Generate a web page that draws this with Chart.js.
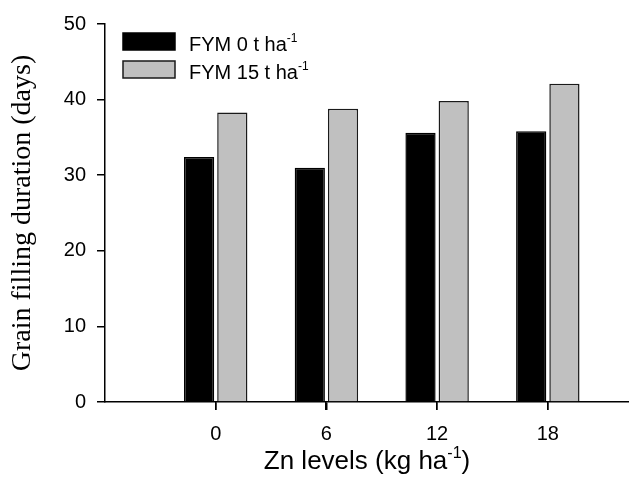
<!DOCTYPE html>
<html>
<head>
<meta charset="utf-8">
<script src="https://cdn.jsdelivr.net/npm/chart.js@4.4.1/dist/chart.umd.min.js"></script>
<style>
  html, body { margin:0; padding:0; background:#fff; }
  canvas { display:block; }
</style>
</head>
<body>
<canvas id="grainChart" width="629" height="484"></canvas>
<script>
/* ── Data ── */
const znLevels     = [0, 6, 12, 18];
const fym0         = [32.4, 31.0, 35.6, 35.8];
const fym15        = [38.3, 38.8, 39.8, 42.1];
const seriesLabels = ['FYM 0 t ha{-1}', 'FYM 15 t ha{-1}'];
const yTicks       = [0, 10, 20, 30, 40, 50];
const xTitle       = 'Zn levels (kg ha{-1})';
const yTitle       = 'Grain filling duration (days)';

/* ── Styling ── */
const SANS  = "'Liberation Sans', Arial, sans-serif";
const SERIF = "'Liberation Serif', 'Times New Roman', serif";
const INK   = '#000';
const TICK  = 8;

/* Text with {superscript} parts, e.g. 'ha{-1}' */
function drawRich(ctx, text, x, y, size, align) {
  const parts  = text.split(/(\{[^}]*\})/).filter(Boolean);
  const base   = `${size}px ${SANS}`;
  const sup    = `${Math.round(size * 0.62)}px ${SANS}`;
  const pieces = parts.map(p => {
    const isSup = p.startsWith('{');
    const str   = isSup ? p.slice(1, -1) : p;
    ctx.font = isSup ? sup : base;
    return { str, isSup, w: ctx.measureText(str).width };
  });
  const total = pieces.reduce((s, p) => s + p.w, 0);
  let cx = align === 'center' ? x - total / 2 : x;
  ctx.textAlign    = 'left';
  ctx.textBaseline = 'alphabetic';
  pieces.forEach(p => {
    ctx.font = p.isSup ? sup : base;
    ctx.fillText(p.str, cx, p.isSup ? y - size * 0.42 : y);
    cx += p.w;
  });
}

/* ── Legend inside the plot, x tick marks, x title with superscript ── */
const plotText = {
  id: 'plotText',
  afterDraw(chart) {
    const { ctx, chartArea } = chart;
    const xs = chart.scales.x;
    ctx.save();

    // tick marks under the x axis
    ctx.strokeStyle = INK;
    ctx.lineWidth   = 1.5;
    xs.ticks.forEach(t => {
      const px = Math.round(xs.getPixelForValue(t.value)) - 0.25;
      ctx.beginPath();
      ctx.moveTo(px, chartArea.bottom);
      ctx.lineTo(px, chartArea.bottom + TICK);
      ctx.stroke();
    });

    chart.data.datasets.forEach((ds, i) => {
      const bx = chartArea.left + 18;
      const by = chartArea.top + 9 + i * 28;
      ctx.fillStyle = ds.backgroundColor;
      ctx.fillRect(bx, by, 52, 17);
      ctx.lineWidth   = 1.5;
      ctx.strokeStyle = ds.borderColor;
      ctx.strokeRect(bx, by, 52, 17);
      ctx.fillStyle = INK;
      drawRich(ctx, ds.label, bx + 66, by + 17.5, 20, 'left');
    });
    ctx.fillStyle = INK;
    drawRich(ctx, xTitle, (chartArea.left + chartArea.right) / 2, chart.height - 15, 26, 'center');
    ctx.restore();
  },
};

const axisGrid = {
  drawOnChartArea: false, drawTicks: true, offset: false,
  tickLength: TICK, tickColor: INK, tickWidth: 1.5, color: INK, lineWidth: 1.5,
};

new Chart(document.getElementById('grainChart'), {
  type: 'bar',
  data: {
    datasets: [
      {
        label: seriesLabels[0],
        data: znLevels.map((z, i) => ({ x: z, y: fym0[i] })),
        backgroundColor: '#000', borderColor: '#000', borderWidth: 1.5,
      },
      {
        label: seriesLabels[1],
        data: znLevels.map((z, i) => ({ x: z, y: fym15[i] })),
        backgroundColor: '#c0c0c0', borderColor: '#1a1a1a', borderWidth: 1.5,
      },
    ],
  },
  options: {
    responsive: false, animation: false,
    categoryPercentage: 0.6, barPercentage: 0.91,
    layout: { padding: { top: 24, right: 0, bottom: 0, left: 0 } },
    plugins: { legend: { display:false }, tooltip: { enabled:false } },
    scales: {
      x: {
        type: 'linear', min: -6, max: 22.4, offset: false,
        afterBuildTicks: s => { s.ticks = znLevels.map(v => ({ value: v })); },
        afterFit: s => { s.height = 82; },
        border: { color: INK, width: 1.5 },
        grid: { ...axisGrid },
        ticks: { color: INK, font: { family: SANS, size: 20 }, padding: 12, maxRotation: 0 },
      },
      y: {
        min: 0, max: 50,
        afterBuildTicks: s => { s.ticks = yTicks.map(v => ({ value: v })); },
        afterFit: s => { s.width = 105; },
        border: { color: INK, width: 1.5 },
        grid: { ...axisGrid },
        ticks: { color: INK, font: { family: SANS, size: 20 }, padding: 11 },
        title: {
          display: true, text: yTitle, color: INK,
          font: { family: SERIF, size: 28 }, padding: { top: 6, bottom: 0 },
        },
      },
    },
  },
  plugins: [plotText],
});
</script>
</body>
</html>
